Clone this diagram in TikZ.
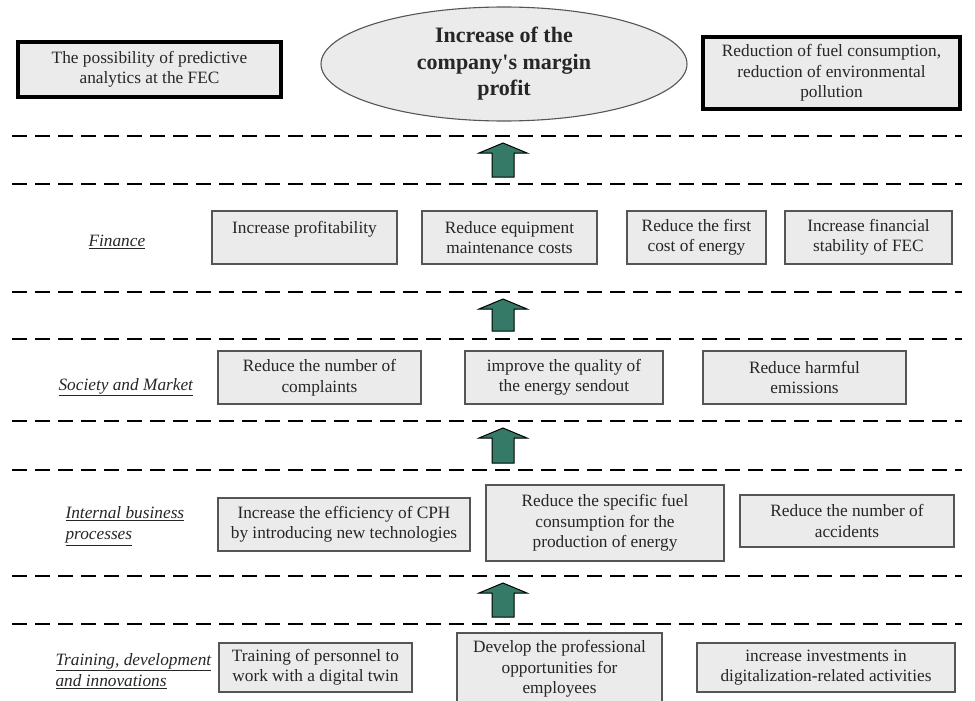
\documentclass[tikz,border=0pt]{standalone}
\usepackage{fontspec}
\setmainfont{Liberation Serif}
\usetikzlibrary{shapes.geometric}
\definecolor{boxgray}{RGB}{235,235,235}
\definecolor{edgegray}{RGB}{85,85,85}
\definecolor{arrowgreen}{RGB}{52,122,102}

\begin{document}
\begin{tikzpicture}[x = 1pt, y = -1pt,
		every node/.style = {font = \fontsize{17.3}{20.5}\selectfont, text = black!85},
		goalbox/.style = {draw = black, line width = 3.5pt, fill = boxgray, align = center, inner sep = 0pt},
		aimbox/.style = {draw = edgegray, line width = 1.1pt, fill = boxgray, align = center, inner sep = 0pt},
		persp/.style = {align = left, anchor = west, font = \fontsize{17.3}{21.5}\selectfont\itshape},
		levelline/.style = {line width = 2.8pt, dash pattern = on 15pt off 8pt}
		]
\useasboundingbox (0,0) rectangle (975,701);
\clip (0,0) rectangle (975,701);

% top level
\node[goalbox, minimum width = 263, minimum height = 55] (predict) at (149.5,69.5) {The possibility of predictive\\analytics at the FEC};
\node[ellipse, draw = edgegray, line width = 1.1pt, fill = boxgray, align = center, inner sep = 0pt,
	minimum width = 366, minimum height = 114, font = \fontsize{22}{26.5}\selectfont\bfseries] (profit) at (504,64) {Increase of the\\company\textquotesingle s margin\\profit};
\node[goalbox, minimum width = 257, minimum height = 72] (fuel) at (831.5,73) {Reduction of fuel consumption,\\reduction of environmental\\pollution};

% level separators and arrows
\foreach \y in {136,184,292,339,421,470,576,624}
	\draw[levelline] (12,\y) -- (962,\y);
\foreach \t/\b in {143/177, 299/331, 428/463, 583/617}
	\draw[fill = arrowgreen, line width = 1pt, line join = miter] (503,\t) -- (527,\t+10) -- (514,\t+10) -- (514,\b)
		-- (492,\b) -- (492,\t+10) -- (479,\t+10) -- cycle;

% finance
\node[persp] (finance) at (85,242) {\underline{Finance}};
\node[aimbox, minimum width = 185, minimum height = 53] (fin1) at (304.5,237.5) {Increase profitability\\\mbox{}};
\node[aimbox, minimum width = 175, minimum height = 53] (fin2) at (509.5,237.5) {Reduce equipment\\maintenance costs};
\node[aimbox, minimum width = 139, minimum height = 53] (fin3) at (696.5,237.5) {Reduce the first\\cost of energy};
\node[aimbox, minimum width = 167, minimum height = 53] (fin4) at (868.5,237.5) {Increase financial\\stability of FEC};

% society and market
\node[persp] (society) at (55,387) {\underline{Society and Market}};
\node[aimbox, minimum width = 203, minimum height = 53] (soc1) at (319.5,377.5) {Reduce the number of\\complaints};
\node[aimbox, minimum width = 198, minimum height = 53] (soc2) at (564,377.5) {improve the quality of\\the energy sendout};
\node[aimbox, minimum width = 203, minimum height = 53] (soc3) at (804.5,377.5) {Reduce harmful\\emissions};

% internal business processes
\node[persp] (internal) at (62,526) {\underline{Internal business}\\\underline{processes}};
\node[aimbox, minimum width = 252, minimum height = 53] (int1) at (344,524.5) {Increase the efficiency of CPH\\by introducing new technologies};
\node[aimbox, minimum width = 238, minimum height = 76] (int2) at (605,523) {Reduce the specific fuel\\consumption for the\\production of energy};
\node[aimbox, minimum width = 214, minimum height = 52] (int3) at (847,521) {Reduce the number of\\accidents};

% training, development and innovations
\node[persp] (training) at (52,671) {\underline{Training, development}\\\underline{and innovations}};
\node[aimbox, minimum width = 193, minimum height = 49] (tr1) at (315.5,667.5) {Training of personnel to\\work with a digital twin};
\node[aimbox, minimum width = 205, minimum height = 72] (tr2) at (559.5,669) {Develop the professional\\opportunities for\\employees};
\node[aimbox, minimum width = 258, minimum height = 49] (tr3) at (826,667.5) {increase investments in\\digitalization-related activities};

\end{tikzpicture}
\end{document}
